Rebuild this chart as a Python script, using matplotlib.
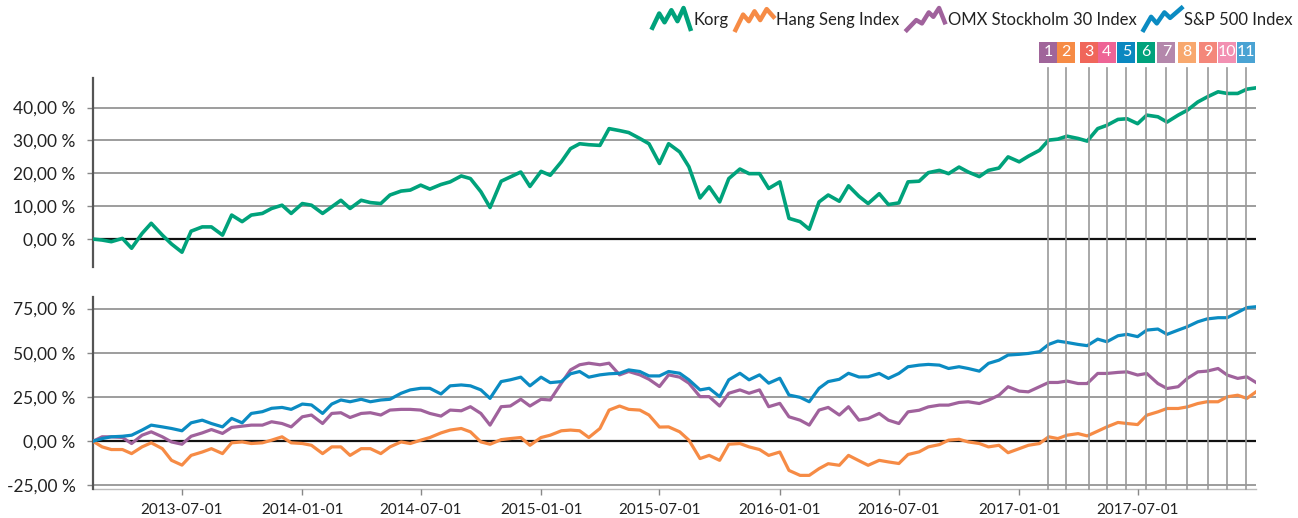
import numpy as np
import pandas as pd
import matplotlib
matplotlib.use("Agg")
import matplotlib.pyplot as plt
import matplotlib.dates as mdates
import matplotlib.transforms as mtransforms
from matplotlib.lines import Line2D
from matplotlib.patches import Rectangle
from matplotlib.ticker import FuncFormatter

plt.rcParams['font.family'] = ['Lato', 'DejaVu Sans']

# ---------------- data (semi-monthly readings, % change since start) ----------------
dates = list(pd.date_range('2013-02-15', '2017-12-15', freq='SMS')) + [pd.Timestamp('2017-12-29')]
dates = [d for d in dates if d >= pd.Timestamp('2013-02-15')]

korg = [0.0, -0.3, -0.8, 0.2, -2.8, 1.7, 4.8, 1.2, -1.5, -4.0,
        2.4, 3.7, 3.7, 1.2, 7.3, 5.3, 7.3, 7.8, 9.3, 10.3,
        7.8, 10.8, 10.3, 7.8, 9.8, 11.8, 9.3, 11.8, 11.1, 10.8,
        13.4, 14.6, 14.9, 16.4, 15.2, 16.6, 17.4, 19.2, 18.4, 14.4,
        9.6, 17.6, 18.9, 20.4, 16.0, 20.6, 19.4, 23.5, 27.5, 29.0,
        28.7, 28.5, 33.6, 33.0, 32.4, 30.6, 29.0, 23.0, 29.0, 26.5,
        22.0, 12.5, 15.9, 11.3, 18.4, 21.3, 19.9, 19.9, 15.4, 17.4,
        6.3, 5.3, 3.0, 11.3, 13.4, 11.5, 16.2, 13.0, 10.8, 13.8,
        10.5, 11.0, 17.4, 17.6, 20.2, 20.9, 19.9, 21.9, 20.4, 19.0,
        20.9, 21.6, 25.0, 23.5, 25.2, 27.0, 30.1, 30.4, 31.3, 30.6,
        29.8, 33.6, 34.6, 36.4, 36.6, 35.1, 37.7, 37.2, 35.6, 37.7,
        39.2, 41.7, 43.2, 44.8, 44.3, 44.3, 45.6, 46.0]

hang_seng = [0.0, -3.2, -4.7, -4.7, -7.0, -3.2, -0.9, -4.2, -10.8, -13.5,
             -8.0, -6.1, -4.2, -7.0, -0.9, -0.4, -1.3, -0.9, 0.6, 2.5,
             -0.9, -1.3, -2.3, -7.0, -3.2, -3.2, -8.0, -4.2, -4.2, -7.0,
             -3.2, -0.4, -1.3, 0.6, 2.1, 4.7, 6.3, 7.2, 5.3, -0.4,
             -1.7, 0.9, 1.5, 2.1, -2.3, 2.1, 3.4, 5.9, 6.3, 5.9,
             2.1, 7.2, 17.6, 19.9, 18.0, 17.6, 14.8, 8.0, 8.1, 5.3,
             0.6, -9.8, -8.0, -10.8, -1.7, -1.3, -3.2, -4.7, -8.0, -6.1,
             -16.5, -19.3, -19.3, -15.5, -12.7, -13.6, -8.0, -11.0, -13.6, -10.8,
             -11.7, -12.6, -7.5, -6.0, -3.2, -1.9, 0.6, 1.1, -0.4, -1.3,
             -3.2, -2.3, -6.5, -4.2, -2.3, -1.3, 2.5, 1.5, 3.4, 4.3,
             3.0, 5.7, 8.1, 10.6, 10.0, 9.4, 14.7, 16.6, 18.5, 18.5,
             19.4, 21.3, 22.3, 22.3, 25.1, 26.0, 24.2, 27.9]

omx = [0.0, 2.5, 2.5, 2.1, -1.3, 3.4, 5.3, 2.5, -0.4, -1.7,
       2.8, 4.7, 6.6, 4.4, 7.8, 8.5, 9.1, 9.1, 11.0, 10.0,
       8.1, 13.8, 14.8, 10.0, 15.7, 16.1, 13.4, 15.7, 16.1, 14.8,
       17.6, 18.0, 18.0, 17.6, 15.7, 14.2, 17.6, 17.2, 19.5, 15.7,
       9.1, 19.5, 19.9, 23.7, 19.9, 23.7, 23.3, 32.8, 40.3, 43.2,
       44.1, 43.2, 44.1, 37.5, 39.4, 37.5, 35.0, 30.9, 37.5, 36.2,
       32.8, 25.2, 25.2, 19.9, 27.1, 29.0, 27.1, 29.0, 19.5, 21.4,
       13.8, 11.9, 9.1, 17.6, 19.1, 14.8, 19.5, 11.9, 12.8, 15.7,
       11.9, 10.0, 16.6, 17.5, 19.4, 20.4, 20.4, 21.9, 22.3, 21.3,
       23.2, 26.0, 30.8, 28.3, 27.9, 30.8, 33.2, 33.2, 34.0, 32.6,
       32.6, 38.3, 38.3, 38.9, 39.2, 37.4, 38.3, 32.6, 29.8, 30.8,
       35.5, 39.2, 39.6, 41.1, 37.4, 35.5, 36.4, 33.2]

sp500 = [0.0, 1.5, 2.5, 2.8, 3.4, 6.3, 9.1, 8.1, 7.2, 5.9,
         10.4, 11.9, 10.0, 8.1, 12.9, 10.4, 15.7, 16.7, 18.6, 19.1,
         18.0, 21.0, 20.5, 15.7, 21.0, 23.3, 22.3, 23.7, 22.3, 23.3,
         23.7, 27.1, 29.0, 29.9, 29.9, 26.7, 31.3, 31.8, 31.3, 29.0,
         24.2, 33.7, 34.7, 36.2, 31.3, 36.2, 33.1, 33.7, 38.1, 39.4,
         36.2, 37.5, 38.1, 38.4, 40.3, 39.4, 36.9, 36.9, 39.4, 38.4,
         34.7, 29.0, 29.9, 25.2, 34.7, 38.4, 34.7, 37.5, 32.8, 35.6,
         26.1, 24.8, 22.3, 29.9, 33.7, 35.0, 38.4, 36.3, 36.4, 38.3,
         35.5, 38.3, 42.1, 43.0, 43.4, 43.0, 41.1, 42.1, 41.1, 39.6,
         44.0, 45.8, 48.7, 49.1, 49.6, 50.6, 54.7, 56.6, 55.8, 54.7,
         54.0, 57.7, 56.2, 59.6, 60.4, 59.1, 62.8, 63.4, 60.4, 62.8,
         64.7, 67.5, 69.1, 69.8, 69.8, 72.8, 75.5, 76.0]

event_dates = ['2017-02-14', '2017-03-13', '2017-04-18', '2017-05-15', '2017-06-14',
               '2017-07-14', '2017-08-14', '2017-09-14', '2017-10-16', '2017-11-15',
               '2017-12-14']
event_labels = ['1', '2', '3', '4', '5', '6', '7', '8', '9', '10', '11']
event_colors = ['#a0659a', '#f68b45', '#f0665a', '#ee6496', '#0a88c0', '#00a27c',
                '#b487ab', '#f8a86e', '#f4877a', '#f290b2', '#4aa3d3']

top_ticks = [0, 10, 20, 30, 40]
bottom_ticks = [-25, 0, 25, 50, 75]
x_ticks = ['2013-07-01', '2014-01-01', '2014-07-01', '2015-01-01', '2015-07-01',
           '2016-01-01', '2016-07-01', '2017-01-01', '2017-07-01']

series_names = ['Korg', 'Hang Seng Index', 'OMX Stockholm 30 Index', 'S&P 500 Index']
series_colors = ['#00a27b', '#f68b45', '#a0629c', '#0b8bc2']

# ---------------- figure ----------------
W, H = 1298, 518
fig = plt.figure(figsize=(W / 100, H / 100), dpi=100)

def fr(x0, y0, x1, y1):
    return [x0 / W, 1 - y1 / H, (x1 - x0) / W, (y1 - y0) / H]

ax1 = fig.add_axes(fr(93, 78, 1256, 267))
ax2 = fig.add_axes(fr(93, 297, 1256, 489), sharex=ax1)

x = mdates.date2num(pd.to_datetime(dates).to_pydatetime())
ax1.plot(x, korg, color=series_colors[0], lw=2.6, zorder=4)
ax2.plot(x, hang_seng, color=series_colors[1], lw=2.3, zorder=4)
ax2.plot(x, omx, color=series_colors[2], lw=2.3, zorder=4)
ax2.plot(x, sp500, color=series_colors[3], lw=2.3, zorder=4)

ax1.set_ylim(-8.5, 49)
ax2.set_ylim(-27, 81.5)
ax1.set_xlim(x[0], x[-1])

fmt = FuncFormatter(lambda v, p: f"{v:.2f}".replace('.', ',') + " %")
for ax, ticks in ((ax1, top_ticks), (ax2, bottom_ticks)):
    ax.set_yticks(ticks)
    ax.yaxis.set_major_formatter(fmt)
    for t in ticks:
        if t == 0:
            ax.axhline(0, color='#111111', lw=1.6, zorder=3)
        else:
            ax.axhline(t, color='#8c8c8c', lw=1.2, zorder=1)
    for s in ('top', 'right', 'bottom'):
        ax.spines[s].set_visible(False)
    ax.spines['left'].set_color('#555555')
    ax.spines['left'].set_linewidth(1.6)
    ax.tick_params(axis='y', length=4.5, width=1, color='#888888', pad=8,
                   labelsize=12.5, labelcolor='#222222')

ax1.tick_params(axis='x', bottom=False, labelbottom=False)
xt = mdates.date2num(pd.to_datetime(x_ticks).to_pydatetime())
ax2.set_xticks(xt)
ax2.set_xticklabels(x_ticks)
ax2.tick_params(axis='x', length=4, width=1, color='#888888', pad=6,
                labelsize=11, labelcolor='#222222')
ax2.axhline(-27, color='#bbbbbb', lw=1.0, zorder=1, clip_on=False)

# ---------------- event lines and boxes ----------------
trans = mtransforms.blended_transform_factory(ax1.transData, fig.transFigure)
ev = mdates.date2num(pd.to_datetime(event_dates).to_pydatetime())
fig.canvas.draw()
renderer = fig.canvas.get_renderer()
for d, lab, col in zip(ev, event_labels, event_colors):
    fig.add_artist(Line2D([d, d], [1 - 68 / H, 1 - 489 / H], transform=trans,
                          color='#999999', lw=1.2, zorder=2))
    xp = ax1.transData.transform((d, 0))[0]
    fig.add_artist(Rectangle(((xp - 9) / W, 1 - 63 / H), 18 / W, 21 / H,
                             transform=fig.transFigure, color=col, lw=0, zorder=5))
    fig.text(xp / W, 1 - 52 / H, lab, color='white', fontsize=11.5,
             ha='center', va='center', zorder=6)

# ---------------- legend (zigzag icons + labels) ----------------
icons = [
    [(0, 0.1), (0.18, 0.75), (0.32, 0.35), (0.5, 0.9), (0.66, 0.4), (0.82, 1.0), (1.0, 0.05)],
    [(0, 0.0), (0.2, 0.7), (0.35, 0.4), (0.5, 0.85), (0.65, 0.45), (0.82, 0.95), (1.0, 0.6)],
    [(0, 0.0), (0.25, 0.45), (0.4, 0.3), (0.58, 0.8), (0.7, 0.6), (0.85, 1.0), (1.0, 0.35)],
    [(0, 0.0), (0.2, 0.6), (0.35, 0.3), (0.55, 0.8), (0.7, 0.55), (1.0, 1.0)],
]
icon_w, gap_it, gap_ti = 38, 3, 7
texts = []
widths = []
for name in series_names:
    t = fig.text(0, 1 - 20 / H, name, fontsize=12, color='#222222',
                 ha='left', va='center')
    widths.append(t.get_window_extent(renderer).width)
    texts.append(t)
total = sum(icon_w + gap_it + w for w in widths) + gap_ti * (len(widths) - 1)
cur = 1293 - total
for t, w, col, ic in zip(texts, widths, series_colors, icons):
    xs = [(cur + p[0] * icon_w) / W for p in ic]
    ys = [1 - (30 - p[1] * 22) / H for p in ic]
    fig.add_artist(Line2D(xs, ys, transform=fig.transFigure, color=col, lw=3.2))
    t.set_x((cur + icon_w + gap_it) / W)
    cur += icon_w + gap_it + w + gap_ti

fig.savefig('out.png', dpi=100)
